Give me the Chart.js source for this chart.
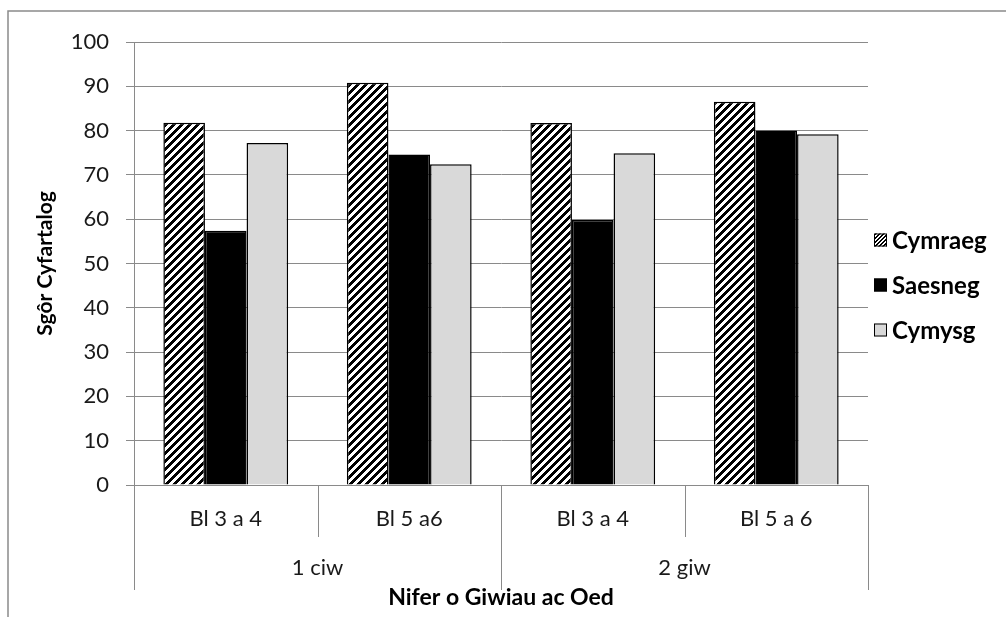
<!DOCTYPE html>
<html>
<head>
<meta charset="utf-8">
<script src="https://cdn.jsdelivr.net/npm/chart.js@4"></script>
<style>
  html, body { margin: 0; padding: 0; background: #fff; }
  #wrap { width: 1006px; height: 617px; }
</style>
</head>
<body>
<div id="wrap"><canvas id="chart" width="1006" height="617"></canvas></div>
<script>
const categories = ['Bl 3 a 4', 'Bl 5 a6', 'Bl 3 a 4', 'Bl 5 a 6'];
const groups = ['1 ciw', '2 giw'];
const seriesNames = ['Cymraeg', 'Saesneg', 'Cymysg'];
const cymraeg = [81.8, 90.8, 81.7, 86.5];
const saesneg = [57.4, 74.6, 59.8, 80.0];
const cymysg = [77.2, 72.4, 74.9, 79.2];
const yTicks = [0, 10, 20, 30, 40, 50, 60, 70, 80, 90, 100];

const FONT = 'Lato, "Liberation Sans", sans-serif';
const GRID = '#8a8a8a';

function makeStripes(size, band) {
    const c = document.createElement('canvas');
    c.width = size; c.height = size;
    const g = c.getContext('2d');
    const img = g.createImageData(size, size);
    for (let y = 0; y < size; y++) {
        for (let x = 0; x < size; x++) {
            const v = ((x + y) % size) < band ? 0 : 255;
            const i = (y * size + x) * 4;
            img.data[i] = v; img.data[i + 1] = v; img.data[i + 2] = v; img.data[i + 3] = 255;
        }
    }
    g.putImageData(img, 0, 0);
    return c;
}

const ctx = document.getElementById('chart').getContext('2d');
const hatch = ctx.createPattern(makeStripes(8, 4), 'repeat');
const hatchSmall = ctx.createPattern(makeStripes(4, 2), 'repeat');

const fills = [hatch, '#000000', '#d9d9d9'];
const legendFills = [hatchSmall, '#000000', '#d9d9d9'];

// frame, multi-level x axis, titles and legend
const decor = {
    id: 'decor',
    beforeDraw(chart) {
        const c = chart.ctx;
        c.save();
        c.strokeStyle = GRID;
        c.lineWidth = 1.5;
        c.strokeRect(8, 11, 1200, 800);
        c.restore();
    },
    afterDraw(chart) {
        const c = chart.ctx;
        const x = chart.scales.x;
        const area = chart.chartArea;
        const bottom = area.bottom;
        const step = (x.getPixelForValue(1) - x.getPixelForValue(0));
        c.save();
        c.strokeStyle = GRID;
        c.lineWidth = 1;
        // separators
        for (let i = 0; i <= categories.length; i++) {
            const px = Math.round(x.getPixelForValue(i) - step / 2) + 0.5;
            const long = i % 2 === 0;
            c.beginPath();
            c.moveTo(px, bottom);
            c.lineTo(px, long ? bottom + 105 : bottom + 52);
            c.stroke();
        }
        c.fillStyle = '#1a1a1a';
        c.font = '22px ' + FONT;
        c.textAlign = 'center';
        c.textBaseline = 'middle';
        categories.forEach((lab, i) => {
            c.fillText(lab, x.getPixelForValue(i), bottom + 34);
        });
        groups.forEach((lab, g) => {
            const mid = (x.getPixelForValue(g * 2) + x.getPixelForValue(g * 2 + 1)) / 2;
            c.fillText(lab, mid, bottom + 83);
        });
        c.fillStyle = '#000';
        c.font = 'bold 23px ' + FONT;
        c.fillText('Nifer o Giwiau ac Oed', (area.left + area.right) / 2, bottom + 113);
        // y title
        c.save();
        c.font = 'bold 21px ' + FONT;
        c.translate(45, (area.top + area.bottom) / 2);
        c.rotate(-Math.PI / 2);
        c.fillText('Sgôr Cyfartalog', 0, 0);
        c.restore();
        // legend
        c.textAlign = 'left';
        c.font = 'bold 24px ' + FONT;
        seriesNames.forEach((name, i) => {
            const cy = 240 + i * 45;
            c.fillStyle = legendFills[i];
            c.fillRect(874, cy - 6.5, 13, 13);
            c.strokeStyle = '#000';
            c.lineWidth = 1;
            c.strokeRect(874.5, cy - 6, 12, 12);
            c.fillStyle = '#000';
            c.fillText(name, 892, cy + 1);
        });
        c.restore();
    }
};

new Chart(ctx, {
    type: 'bar',
    data: {
        labels: categories,
        datasets: [
            { label: seriesNames[0], data: cymraeg, backgroundColor: fills[0] },
            { label: seriesNames[1], data: saesneg, backgroundColor: fills[1] },
            { label: seriesNames[2], data: cymysg, backgroundColor: fills[2] }
        ].map(d => Object.assign(d, {
            borderColor: '#000',
            borderWidth: 1.5,
            categoryPercentage: 0.68,
            barPercentage: 1
        }))
    },
    options: {
        responsive: false,
        animation: false,
        devicePixelRatio: 1,
        layout: { padding: { left: 0, right: 138, top: 42, bottom: 0 } },
        plugins: {
            legend: { display: false },
            tooltip: { enabled: false }
        },
        scales: {
            x: {
                ticks: { display: false },
                grid: { display: false, drawTicks: false },
                border: { display: true, color: GRID, width: 1 },
                afterFit(s) { s.height = 132; }
            },
            y: {
                min: 0,
                max: 100,
                afterBuildTicks(s) { s.ticks = yTicks.map(v => ({ value: v })); },
                ticks: {
                    color: '#1a1a1a',
                    font: { family: FONT, size: 22 },
                    padding: 17
                },
                grid: { color: GRID, lineWidth: 1, tickLength: 8 },
                border: { display: true, color: GRID, width: 1 },
                afterFit(s) { s.width = 134; }
            }
        }
    },
    plugins: [decor]
});
</script>
</body>
</html>
